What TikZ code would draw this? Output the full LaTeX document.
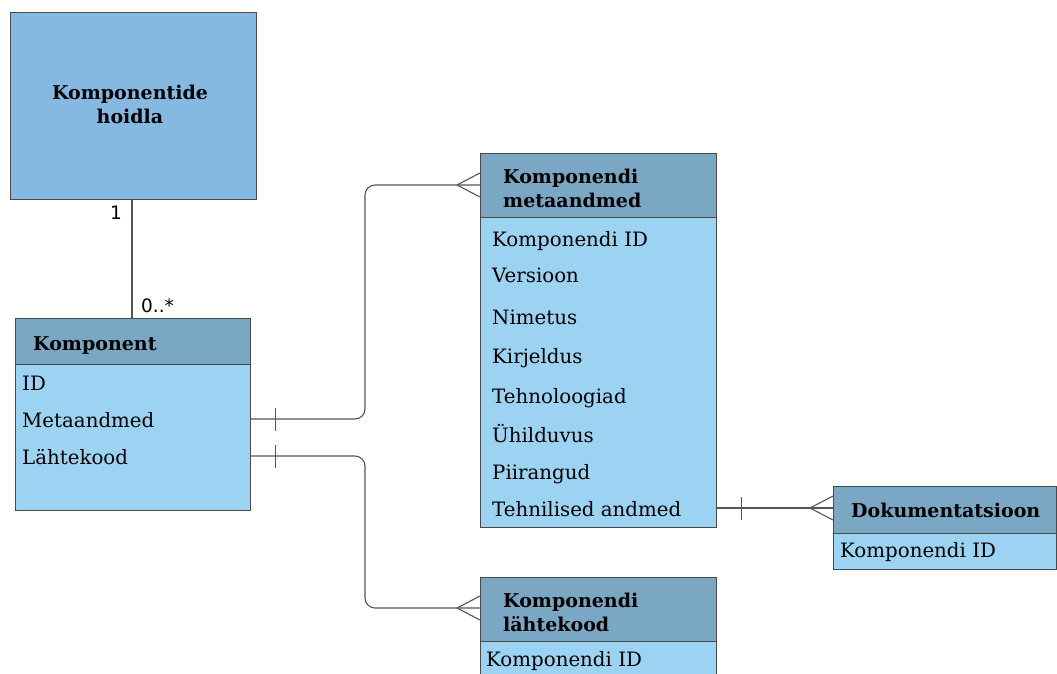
\documentclass[tikz,border=0pt]{standalone}
\usepackage{fontspec}
\setmainfont{DejaVu Serif}
\setsansfont{DejaVu Sans}
\definecolor{storefill}{HTML}{85B9E2}
\definecolor{headfill}{HTML}{7AA7C3}
\definecolor{bodyfill}{HTML}{9CD2F2}
\definecolor{edge}{HTML}{4A4A4A}
\definecolor{wire}{HTML}{555555}
\tikzset{
  cell/.style={draw=edge, line width=1.1pt, inner sep=0pt, anchor=north west},
  headcell/.style={cell, fill=headfill},
  bodycell/.style={cell, fill=bodyfill},
  title/.style={font=\fontsize{19}{24}\selectfont\bfseries, anchor=base west, inner sep=0pt, align=left},
  field/.style={font=\fontsize{19.8}{22}\selectfont, anchor=base west, inner sep=0pt},
  mult/.style={font=\sffamily\fontsize{18.5}{20}\selectfont, inner sep=0pt},
  wirestyle/.style={draw=wire, line width=1.1pt, rounded corners=10pt},
  tick/.style={draw=wire, line width=1.1pt},
}
\begin{document}
\begin{tikzpicture}[x=1pt,y=-1pt]
\useasboundingbox (0,0) rectangle (1057,673);

% repository box
\node[cell, fill=storefill, minimum width=246pt, minimum height=187pt] (store) at (10,12) {};
\node[font=\fontsize{19}{24}\selectfont\bfseries, align=center, inner sep=0pt, anchor=base] (storetxt) at (130,123) {Komponentide\\hoidla};

% Komponent table
\node[headcell, minimum width=235pt, minimum height=46pt] (komph) at (15,318) {};
\node[bodycell, minimum width=235pt, minimum height=146pt] (kompb) at (15,364) {};
\node[title] (kompt) at (33,350) {Komponent};
\node[field] (kid) at (22,390) {ID};
\node[field] (kmeta) at (22,427) {Metaandmed};
\node[field] (ksrc) at (22,464) {Lähtekood};

% metadata table
\node[headcell, minimum width=236pt, minimum height=64pt] (metah) at (480,153) {};
\node[bodycell, minimum width=236pt, minimum height=310pt] (metab) at (480,217) {};
\node[title] (metat) at (503,207) {Komponendi\\metaandmed};
\node[field] (m1) at (492,246) {Komponendi ID};
\node[field] (m2) at (492,282) {Versioon};
\node[field] (m3) at (492,324) {Nimetus};
\node[field] (m4) at (492,363) {Kirjeldus};
\node[field] (m5) at (492,403) {Tehnoloogiad};
\node[field] (m6) at (492,442) {Ühilduvus};
\node[field] (m7) at (492,479) {Piirangud};
\node[field] (m8) at (492,516) {Tehnilised andmed};

% documentation table
\node[headcell, minimum width=223pt, minimum height=47pt] (doch) at (833,486) {};
\node[bodycell, minimum width=223pt, minimum height=36pt] (docb) at (833,533) {};
\node[title] (doct) at (851,517) {Dokumentatsioon};
\node[field] (d1) at (840,557) {Komponendi ID};

% source table
\node[headcell, minimum width=236pt, minimum height=64pt] (srch) at (480,577) {};
\node[bodycell, minimum width=236pt, minimum height=60pt] (srcb) at (480,641) {};
\node[title] (srct) at (503,631) {Komponendi\\lähtekood};
\node[field] (s1) at (486,666) {Komponendi ID};

% repository to component
\draw[tick] (store.south -| 132,0) -- (komph.north -| 132,0);
\node[mult, anchor=base east] (one) at (122,219) {1};
\node[mult, anchor=base west] (many) at (141,312) {0..*};

% component -> metadata
\coordinate (a1) at (kompb.east |- 0,419);
\coordinate (a2) at (metah.west |- 0,185);
\draw[wirestyle] (a1) -- (365,419) -- (365,185) -- (a2);
\draw[tick] ([xshift=24pt]a1) ++(0,-11.5) -- ++(0,23);
\draw[tick] ([xshift=-23pt]a2) -- ([yshift=-12pt]a2);
\draw[tick] ([xshift=-23pt]a2) -- ([yshift=12pt]a2);

% component -> source
\coordinate (b1) at (kompb.east |- 0,456);
\coordinate (b2) at (srch.west |- 0,608);
\draw[wirestyle] (b1) -- (365,456) -- (365,608) -- (b2);
\draw[tick] ([xshift=24pt]b1) ++(0,-11.5) -- ++(0,23);
\draw[tick] ([xshift=-23pt]b2) -- ([yshift=-12pt]b2);
\draw[tick] ([xshift=-23pt]b2) -- ([yshift=12pt]b2);

% metadata -> documentation
\coordinate (c1) at (metab.east |- 0,508);
\coordinate (c2) at (doch.west |- 0,508);
\draw[wirestyle] (c1) -- (c2);
\draw[tick] ([xshift=24pt]c1) ++(0,-11.5) -- ++(0,23);
\draw[tick] ([xshift=-23pt]c2) -- ([yshift=-12pt]c2);
\draw[tick] ([xshift=-23pt]c2) -- ([yshift=12pt]c2);
\end{tikzpicture}
\end{document}
